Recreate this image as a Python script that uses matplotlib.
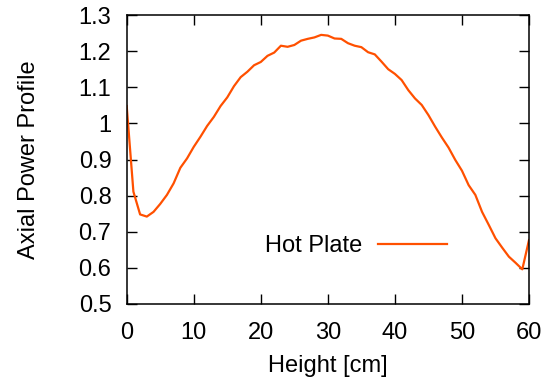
import matplotlib
matplotlib.use("Agg")
import matplotlib.pyplot as plt
from matplotlib.ticker import FuncFormatter

height_cm = [0, 1, 2, 3, 4, 5, 6, 7, 8, 9, 10, 11, 12, 13, 14, 15, 16, 17, 18, 19,
             20, 21, 22, 23, 24, 25, 26, 27, 28, 29, 30, 31, 32, 33, 34, 35, 36, 37,
             38, 39, 40, 41, 42, 43, 44, 45, 46, 47, 48, 49, 50, 51, 52, 53, 54, 55,
             56, 57, 58, 59, 60]
hot_plate = [1.048, 0.811, 0.748, 0.742, 0.755, 0.777, 0.802, 0.834, 0.877, 0.903,
             0.935, 0.963, 0.993, 1.018, 1.048, 1.072, 1.103, 1.128, 1.143, 1.161,
             1.170, 1.187, 1.196, 1.215, 1.212, 1.217, 1.229, 1.234, 1.238, 1.245,
             1.243, 1.235, 1.234, 1.222, 1.215, 1.211, 1.197, 1.191, 1.171, 1.150,
             1.137, 1.120, 1.092, 1.069, 1.051, 1.023, 0.991, 0.961, 0.933, 0.899,
             0.869, 0.829, 0.802, 0.755, 0.719, 0.682, 0.656, 0.631, 0.614, 0.596,
             0.677]
series_label = "Hot Plate"
x_ticks = [0, 10, 20, 30, 40, 50, 60]
y_ticks = [0.5, 0.6, 0.7, 0.8, 0.9, 1.0, 1.1, 1.2, 1.3]

plt.rcParams['font.family'] = ['Liberation Sans', 'DejaVu Sans']
FS = 17

fig = plt.figure(figsize=(5.53, 3.81), dpi=100)
ax = fig.add_axes([0.2291, 0.2021, 0.7275, 0.7585])

ax.plot(height_cm, hot_plate, color='#ff5000', lw=1.6, label=series_label)

ax.set_xlim(0, 60)
ax.set_ylim(0.5, 1.3)
ax.set_xticks(x_ticks)
ax.set_yticks(y_ticks)
ax.yaxis.set_major_formatter(FuncFormatter(lambda v, p: f"{v:g}"))
ax.tick_params(direction='in', length=7.5, width=1.0, top=True, right=True,
               labelsize=FS)
ax.tick_params(axis='x', pad=13)
ax.tick_params(axis='y', pad=11)
for s in ax.spines.values():
    s.set_linewidth(1.1)

ax.set_xlabel("Height [cm]", fontsize=FS, labelpad=8)
ax.set_ylabel("Axial Power Profile", fontsize=FS, labelpad=28)

ax.legend(loc='center right', bbox_to_anchor=(0.796, 0.20), frameon=False,
          markerfirst=False, handlelength=2.92, fontsize=FS, handletextpad=0.65,
          borderpad=0, borderaxespad=0)

fig.savefig("out.png", dpi=100)
